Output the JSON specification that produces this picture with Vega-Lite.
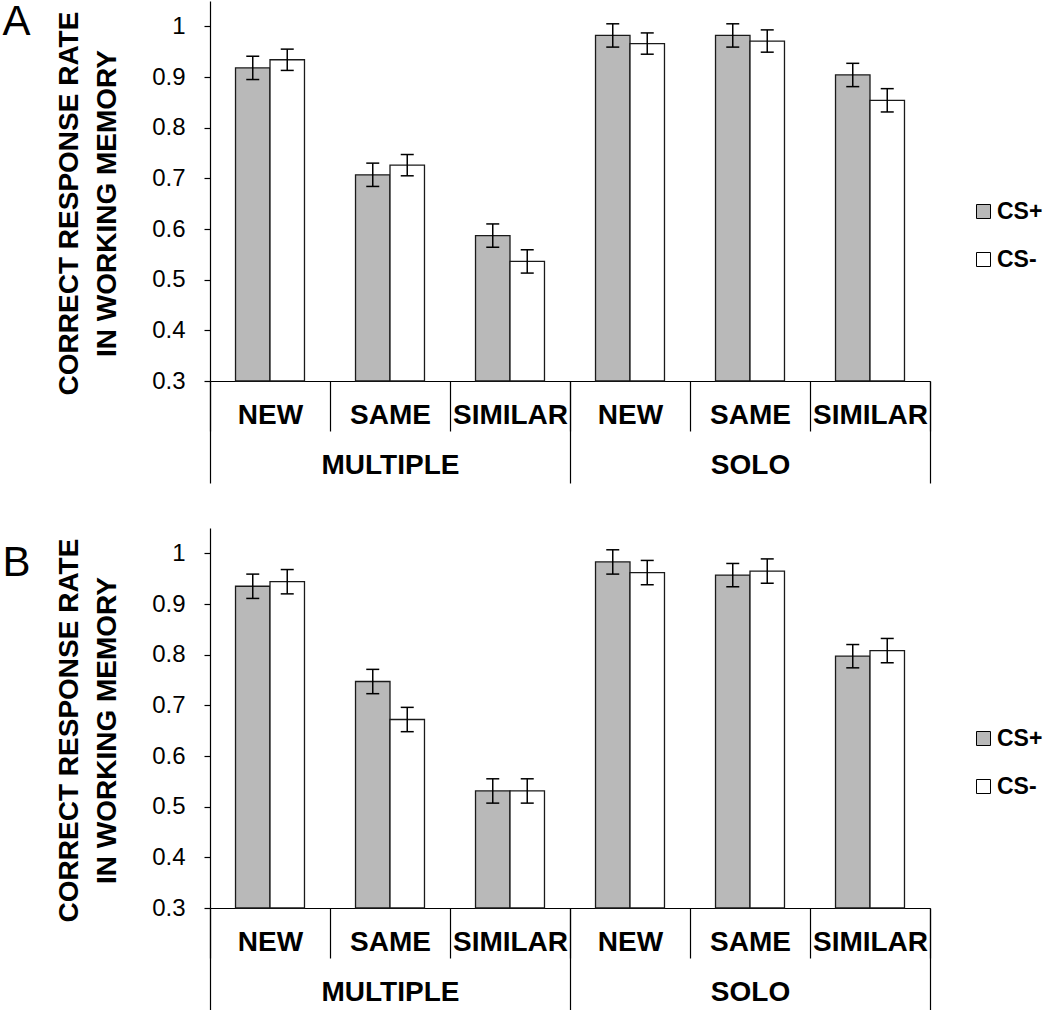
{
  "$schema": "https://vega.github.io/schema/vega-lite/v6.json",
  "padding": {"left": 2, "top": 0, "right": 0, "bottom": 0},
  "spacing": 44,
  "datasets": {
    "A": [
      {"group": "MULTIPLE", "key": "MULTIPLE NEW", "cs": "CS+", "rate": 0.918, "lo": 0.895, "hi": 0.941},
      {"group": "MULTIPLE", "key": "MULTIPLE NEW", "cs": "CS-", "rate": 0.934, "lo": 0.913, "hi": 0.955},
      {"group": "MULTIPLE", "key": "MULTIPLE SAME", "cs": "CS+", "rate": 0.707, "lo": 0.684, "hi": 0.730},
      {"group": "MULTIPLE", "key": "MULTIPLE SAME", "cs": "CS-", "rate": 0.726, "lo": 0.705, "hi": 0.747},
      {"group": "MULTIPLE", "key": "MULTIPLE SIMILAR", "cs": "CS+", "rate": 0.587, "lo": 0.564, "hi": 0.610},
      {"group": "MULTIPLE", "key": "MULTIPLE SIMILAR", "cs": "CS-", "rate": 0.536, "lo": 0.513, "hi": 0.559},
      {"group": "SOLO", "key": "SOLO NEW", "cs": "CS+", "rate": 0.982, "lo": 0.959, "hi": 1.005},
      {"group": "SOLO", "key": "SOLO NEW", "cs": "CS-", "rate": 0.966, "lo": 0.945, "hi": 0.987},
      {"group": "SOLO", "key": "SOLO SAME", "cs": "CS+", "rate": 0.982, "lo": 0.959, "hi": 1.005},
      {"group": "SOLO", "key": "SOLO SAME", "cs": "CS-", "rate": 0.971, "lo": 0.949, "hi": 0.993},
      {"group": "SOLO", "key": "SOLO SIMILAR", "cs": "CS+", "rate": 0.904, "lo": 0.881, "hi": 0.927},
      {"group": "SOLO", "key": "SOLO SIMILAR", "cs": "CS-", "rate": 0.854, "lo": 0.831, "hi": 0.877}
    ],
    "B": [
      {"group": "MULTIPLE", "key": "MULTIPLE NEW", "cs": "CS+", "rate": 0.935, "lo": 0.911, "hi": 0.959},
      {"group": "MULTIPLE", "key": "MULTIPLE NEW", "cs": "CS-", "rate": 0.944, "lo": 0.920, "hi": 0.968},
      {"group": "MULTIPLE", "key": "MULTIPLE SAME", "cs": "CS+", "rate": 0.747, "lo": 0.723, "hi": 0.771},
      {"group": "MULTIPLE", "key": "MULTIPLE SAME", "cs": "CS-", "rate": 0.672, "lo": 0.648, "hi": 0.696},
      {"group": "MULTIPLE", "key": "MULTIPLE SIMILAR", "cs": "CS+", "rate": 0.531, "lo": 0.507, "hi": 0.555},
      {"group": "MULTIPLE", "key": "MULTIPLE SIMILAR", "cs": "CS-", "rate": 0.531, "lo": 0.507, "hi": 0.555},
      {"group": "SOLO", "key": "SOLO NEW", "cs": "CS+", "rate": 0.983, "lo": 0.959, "hi": 1.007},
      {"group": "SOLO", "key": "SOLO NEW", "cs": "CS-", "rate": 0.962, "lo": 0.938, "hi": 0.986},
      {"group": "SOLO", "key": "SOLO SAME", "cs": "CS+", "rate": 0.957, "lo": 0.934, "hi": 0.980},
      {"group": "SOLO", "key": "SOLO SAME", "cs": "CS-", "rate": 0.965, "lo": 0.941, "hi": 0.989},
      {"group": "SOLO", "key": "SOLO SIMILAR", "cs": "CS+", "rate": 0.797, "lo": 0.774, "hi": 0.820},
      {"group": "SOLO", "key": "SOLO SIMILAR", "cs": "CS-", "rate": 0.808, "lo": 0.784, "hi": 0.832}
    ]
  },
  "vconcat": [
    {
      "data": {"name": "A"},
      "width": 720,
      "height": 380,
      "layer": [
        {
          "encoding": {
            "x": {
              "field": "key", "type": "nominal",
              "scale": {"type": "band", "domain": ["MULTIPLE NEW", "MULTIPLE SAME", "MULTIPLE SIMILAR", "SOLO NEW", "SOLO SAME", "SOLO SIMILAR"], "paddingInner": 0, "paddingOuter": 0},
              "axis": {"orient": "bottom", "title": null, "labelExpr": "split(datum.label, ' ')[1]", "labelAngle": 0, "tickBand": "extent", "tickSize": 50, "labelPadding": -16, "labelBaseline": "middle", "labelFontSize": 28, "labelFontWeight": "bold", "domainWidth": 1.2, "tickWidth": 1.2}
            },
            "xOffset": {"field": "cs", "type": "nominal", "scale": {"domain": ["CS+", "CS-"], "paddingInner": 0, "paddingOuter": 0.74}}
          },
          "layer": [
            {
              "mark": {"type": "bar", "stroke": "#1a1a1a", "strokeWidth": 1.3},
              "encoding": {
                "y": {
                  "field": "rate", "type": "quantitative",
                  "scale": {"domain": [0.3, 1.05], "nice": false, "zero": false},
                  "axis": {"orient": "left", "values": [0.3, 0.4, 0.5, 0.6, 0.7, 0.8, 0.9, 1], "format": "~g", "title": ["CORRECT RESPONSE RATE", "IN WORKING MEMORY"], "titleY": 202}
                },
                "y2": {"datum": 0.3},
                "fill": {
                  "field": "cs", "type": "nominal",
                  "scale": {"domain": ["CS+", "CS-"], "range": ["#b9b9b9", "#ffffff"]},
                  "legend": {"orient": "none", "legendX": 762, "legendY": 199, "title": null}
                }
              }
            },
            {
              "mark": {"type": "rule", "color": "#000", "strokeWidth": 1.5},
              "encoding": {"y": {"field": "lo", "type": "quantitative"}, "y2": {"field": "hi"}}
            },
            {
              "mark": {"type": "tick", "color": "#000", "size": 13, "thickness": 1.5, "opacity": 1},
              "encoding": {"y": {"field": "lo", "type": "quantitative"}}
            },
            {
              "mark": {"type": "tick", "color": "#000", "size": 13, "thickness": 1.5, "opacity": 1},
              "encoding": {"y": {"field": "hi", "type": "quantitative"}}
            }
          ]
        },
        {
          "mark": {"type": "point", "opacity": 0},
          "encoding": {
            "x": {
              "field": "group", "type": "nominal",
              "scale": {"type": "band", "domain": ["MULTIPLE", "SOLO"], "paddingInner": 0, "paddingOuter": 0},
              "axis": {"orient": "bottom", "title": null, "domain": false, "labelAngle": 0, "tickBand": "extent", "tickSize": 102, "labelPadding": -18, "labelBaseline": "middle", "labelFontSize": 28, "labelFontWeight": "bold", "tickWidth": 1.2}
            },
            "y": {
              "field": "rate", "type": "quantitative",
              "scale": {"domain": [0.3, 1.05], "nice": false, "zero": false},
              "axis": {"orient": "left", "domain": false, "ticks": false, "labels": false, "title": "A", "titleAngle": 0, "titleX": -208, "titleY": 0.8, "titleBaseline": "top", "titleAlign": "left", "titleFontSize": 42, "titleFontWeight": "normal"}
            }
          }
        }
      ],
      "resolve": {"scale": {"x": "independent", "y": "independent"}}
    },
    {
      "data": {"name": "B"},
      "width": 720,
      "height": 380,
      "layer": [
        {
          "encoding": {
            "x": {
              "field": "key", "type": "nominal",
              "scale": {"type": "band", "domain": ["MULTIPLE NEW", "MULTIPLE SAME", "MULTIPLE SIMILAR", "SOLO NEW", "SOLO SAME", "SOLO SIMILAR"], "paddingInner": 0, "paddingOuter": 0},
              "axis": {"orient": "bottom", "title": null, "labelExpr": "split(datum.label, ' ')[1]", "labelAngle": 0, "tickBand": "extent", "tickSize": 50, "labelPadding": -16, "labelBaseline": "middle", "labelFontSize": 28, "labelFontWeight": "bold", "domainWidth": 1.2, "tickWidth": 1.2}
            },
            "xOffset": {"field": "cs", "type": "nominal", "scale": {"domain": ["CS+", "CS-"], "paddingInner": 0, "paddingOuter": 0.74}}
          },
          "layer": [
            {
              "mark": {"type": "bar", "stroke": "#1a1a1a", "strokeWidth": 1.3},
              "encoding": {
                "y": {
                  "field": "rate", "type": "quantitative",
                  "scale": {"domain": [0.3, 1.05], "nice": false, "zero": false},
                  "axis": {"orient": "left", "values": [0.3, 0.4, 0.5, 0.6, 0.7, 0.8, 0.9, 1], "format": "~g", "title": ["CORRECT RESPONSE RATE", "IN WORKING MEMORY"], "titleY": 202}
                },
                "y2": {"datum": 0.3},
                "fill": {
                  "field": "cs", "type": "nominal",
                  "scale": {"domain": ["CS+", "CS-"], "range": ["#b9b9b9", "#ffffff"]},
                  "legend": {"orient": "none", "legendX": 762, "legendY": 199, "title": null}
                }
              }
            },
            {
              "mark": {"type": "rule", "color": "#000", "strokeWidth": 1.5},
              "encoding": {"y": {"field": "lo", "type": "quantitative"}, "y2": {"field": "hi"}}
            },
            {
              "mark": {"type": "tick", "color": "#000", "size": 13, "thickness": 1.5, "opacity": 1},
              "encoding": {"y": {"field": "lo", "type": "quantitative"}}
            },
            {
              "mark": {"type": "tick", "color": "#000", "size": 13, "thickness": 1.5, "opacity": 1},
              "encoding": {"y": {"field": "hi", "type": "quantitative"}}
            }
          ]
        },
        {
          "mark": {"type": "point", "opacity": 0},
          "encoding": {
            "x": {
              "field": "group", "type": "nominal",
              "scale": {"type": "band", "domain": ["MULTIPLE", "SOLO"], "paddingInner": 0, "paddingOuter": 0},
              "axis": {"orient": "bottom", "title": null, "domain": false, "labelAngle": 0, "tickBand": "extent", "tickSize": 102, "labelPadding": -18, "labelBaseline": "middle", "labelFontSize": 28, "labelFontWeight": "bold", "tickWidth": 1.2}
            },
            "y": {
              "field": "rate", "type": "quantitative",
              "scale": {"domain": [0.3, 1.05], "nice": false, "zero": false},
              "axis": {"orient": "left", "domain": false, "ticks": false, "labels": false, "title": "B", "titleAngle": 0, "titleX": -208, "titleY": 14.8, "titleBaseline": "top", "titleAlign": "left", "titleFontSize": 42, "titleFontWeight": "normal"}
            }
          }
        }
      ],
      "resolve": {"scale": {"x": "independent", "y": "independent"}}
    }
  ],
  "resolve": {"scale": {"fill": "independent"}, "legend": {"fill": "independent"}},
  "config": {
    "view": {"stroke": null},
    "font": "Liberation Sans",
    "axis": {"grid": false, "domainColor": "#000", "tickColor": "#000", "labelColor": "#000", "titleColor": "#000", "labelFont": "Liberation Sans", "titleFont": "Liberation Sans"},
    "axisY": {"tickSize": 6, "labelPadding": 19, "labelFontSize": 24, "titleFontSize": 28, "titleFontWeight": "bold", "titleLineHeight": 38, "titlePadding": 30, "domainWidth": 1.2, "tickWidth": 1.2},
    "legend": {"symbolType": "square", "symbolSize": 196, "symbolStrokeColor": "#000", "symbolStrokeWidth": 1, "labelFont": "Liberation Sans", "labelFontWeight": "bold", "labelFontSize": 23, "labelColor": "#000", "labelOffset": 2, "rowPadding": 24, "padding": 0}
  }
}
